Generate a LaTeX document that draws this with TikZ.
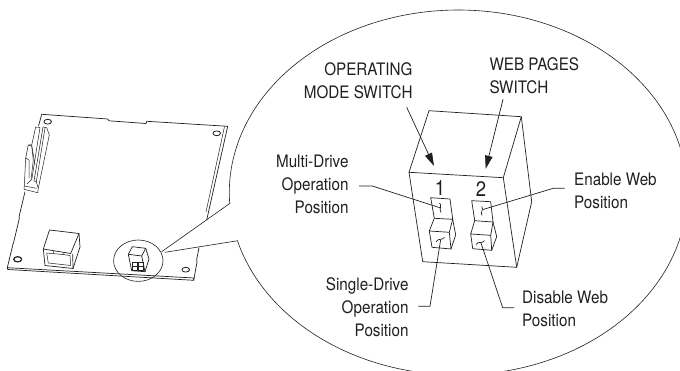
\documentclass[tikz,border=0pt]{standalone}
\usepackage{fontspec}
\setmainfont[FakeStretch=0.885]{TeX Gyre Heros}
\usetikzlibrary{arrows.meta}
\definecolor{ink}{HTML}{231F20}
\tikzset{
  ln/.style={draw=ink,line width=0.7pt,line join=round},
  thin ln/.style={draw=ink,line width=0.6pt,line join=round},
  fine/.style={draw=ink,line width=0.5pt,line join=round},
  lbl/.style={inner sep=0pt,text=ink,font=\fontsize{17.2}{23}\selectfont},
  lblr/.style={lbl,align=right,anchor=east},
  lbll/.style={lbl,align=left,anchor=west},
  digit/.style={inner sep=0pt,text=ink,font=\fontsize{21}{21}\selectfont},
  leader/.style={ln},
  pointer/.style={ln,-{Triangle[length=13pt,width=7.5pt]}},
  hole/.style={ln,line width=0.8pt}
}
\begin{document}
\begin{tikzpicture}[x=1pt,y=-1pt]
\useasboundingbox (0,0) rectangle (680,371);
\clip (0,0) rectangle (680,371);
\fill[white] (0,0) rectangle (680,371);

% magnifier ellipse with callout lines
\draw[thin ln] (161.7,251.7) -- (230,203.3)
  -- plot[domain=177:524.7,samples=180,smooth] ({458.3+229*cos(\x)},{192.5+182.5*sin(\x)})
  -- (237.8,240.7) -- (165,252.3);
\draw[thin ln] (138.3,260.7) ellipse [x radius=24.7pt,y radius=20.7pt];

% board
\draw[ln] (25,191.7) -- (19,217) -- (19.4,218) -- (13.5,243) -- (13,244) -- (7.3,267.7)
  -- (194,278) -- (193.7,280.3) -- (7.8,269.5) -- (7.3,267.7);
\draw[ln] (193.7,280.3) -- (197,262) -- (196.6,260) -- (199,247.7);
\draw[ln] (41.7,114.3) -- (107.7,119) -- (109,120.8) -- (146,123.5) -- (146.7,121.3) -- (227.7,126.3) -- (206.7,220);
\draw[fine] (224.5,126.5) -- (206,212);
\draw[ln] (41.7,114.3) -- (38.5,126);
% holes
\draw[hole] (47.7,121.7) ellipse [x radius=3.8pt,y radius=2.4pt];
\draw[hole] (216.7,133.3) ellipse [x radius=3.8pt,y radius=2.4pt];
\draw[hole,line width=1.2pt] (17.7,259.3) ellipse [x radius=4pt,y radius=2.6pt];
\draw[hole] (185.7,269.7) ellipse [x radius=3.8pt,y radius=2.4pt];

% edge connector
\draw[fine] (35.7,127) -- (31.7,145) -- (28.3,145) -- (25.7,158) -- (24.3,186) -- (24,189.3) -- (37.7,192.7) -- (38.3,188.3) -- (49.3,135) -- (46.7,127.7) -- (43,127);
\draw[fine] (35.7,127) -- (40,127.5) -- (31.7,180) ;
\draw[fine] (43,127) -- (34,181) -- (36.3,182);
\draw[fine] (45,128) -- (36.3,182) -- (38.3,188.3);
\draw[fine] (24.3,186) -- (36.3,188.3);
\draw[fine] (28.3,145) -- (31.7,146) -- (33.3,160) -- (31,180) -- (27,184);
\draw[fine] (25.7,158) -- (29,160) -- (29,178);
\draw[fine] (31.7,145) -- (35,165);

% RJ45 jack
\draw[ln] (43.3,249) -- (49.5,230) -- (79,233.5) -- (70.7,253.5) -- cycle;
\draw[ln] (43.3,249) -- (45,265.5) -- (73,268.5) -- (72.7,254) ;
\draw[ln] (79,233.5) -- (80,247) -- (73,268.5);
\draw[fine] (46.7,253) -- (48.3,263) -- (70.7,265.5) -- (70,255.5) -- (63,254.5) -- (63,252.7);
\draw[fine] (46.7,253) -- (53.5,253.7) -- (53.5,251);
\draw[fine] (53.5,253.7) -- (63,254.5);

% DIP switch on board
\draw[ln] (128.3,254.3) -- (132.3,246.7) -- (145.7,248.3) -- (141.7,256) -- cycle;
\draw[ln] (128.3,254.3) -- (131.7,270.7) -- (145,271.7) -- (141.7,256);
\draw[ln] (145.7,248.3) -- (149,259) -- (145,271.7);
\draw[ln] (132.3,262.3) rectangle (137.3,270);
\draw[ln] (138.8,262.5) rectangle (143.3,270.2);
\draw[ln] (132.3,266) -- (137.3,266) (138.8,266) -- (143.3,266);

% enlarged switch body
\coordinate (fl) at (409,172.3);
\coordinate (fr) at (503.3,177.7);
\coordinate (br) at (516.7,267.3);
\coordinate (bl) at (422.7,261.7);
\coordinate (tl) at (429,110.7);
\coordinate (tr) at (521.3,116.7);
\coordinate (rs) at (531.7,201.7);
\draw[ln] (fl) -- (fr) -- (br) -- (bl) -- cycle;
\draw[ln] (fl) -- (tl) -- (tr) -- (fr);
\draw[ln] (tr) -- (rs) -- (br);

% rocker 1
\draw[ln] (434.3,218.3) -- (430.7,197.7) -- (450,199) -- (452.7,219.3) -- cycle;
\draw[ln] (434.3,218.3) -- (429.3,231) -- (449.3,232.3) -- (452.7,219.3);
\draw[ln] (429.3,231) -- (432,247.3) -- (451,249) -- (449.3,232.3);
\draw[ln] (452.7,219.3) -- (455.7,235) -- (451,249);
% rocker 2
\draw[ln] (474.7,220.7) -- (471.7,200.7) -- (490.7,201.7) -- (493,222) -- cycle;
\draw[ln] (474.7,220.7) -- (470.7,234) -- (490.7,235.3) -- (493,222);
\draw[ln] (470.7,234) -- (472.7,248.7) -- (491.7,250.3) -- (490.7,235.3);
\draw[ln] (493,222) -- (496.7,236.7) -- (491.7,250.3);

% texts
\node[lblr] (opmode) at (412.7,80.7) {OPERATING\\MODE SWITCH};
\node[lbll] (webpages) at (489.3,75.7) {WEB PAGES\\SWITCH};
\node[lblr] (multi) at (348.7,184.3) {Multi-Drive\\Operation\\Position};
\node[lblr] (single) at (408.7,307.3) {Single-Drive\\Operation\\Position};
\node[lbll] (enable) at (574,190.5) {Enable Web\\Position};
\node[lbll] (disable) at (522,309.3) {Disable Web\\Position};
\node[digit] (one) at (440,187.7) {1};
\node[digit] (two) at (481,189.3) {2};

% pointers
\coordinate (optip) at (434,166);
\coordinate (webtip) at (485.7,168.7);
\draw[pointer] (406.7,107.3) -- (optip);
\draw[pointer] (503,99.3) -- (webtip);

% leaders with squiggled ends
\draw[leader] (359,186) -- (372.3,186) -- (440.7,208);
\draw[leader] (439.5,203) .. controls (442.5,205) and (438.5,209) .. (441,212.5);
\draw[leader] (564.7,188.3) -- (553.3,188.3) -- (483,209.5);
\draw[leader] (481.8,206.5) .. controls (484,209.5) and (480,212) .. (482,215.5);
\draw[leader] (418.3,306.3) -- (430,306.3) -- (440.7,239.5);
\draw[leader] (436,242) .. controls (438.5,237.5) and (441,241) .. (444.5,237.5);
\draw[leader] (514,307.7) -- (502.7,307.7) -- (481,243);
\draw[leader] (476,244.5) .. controls (478.5,240.5) and (481,244.5) .. (484.5,240.7);
\end{tikzpicture}
\end{document}
